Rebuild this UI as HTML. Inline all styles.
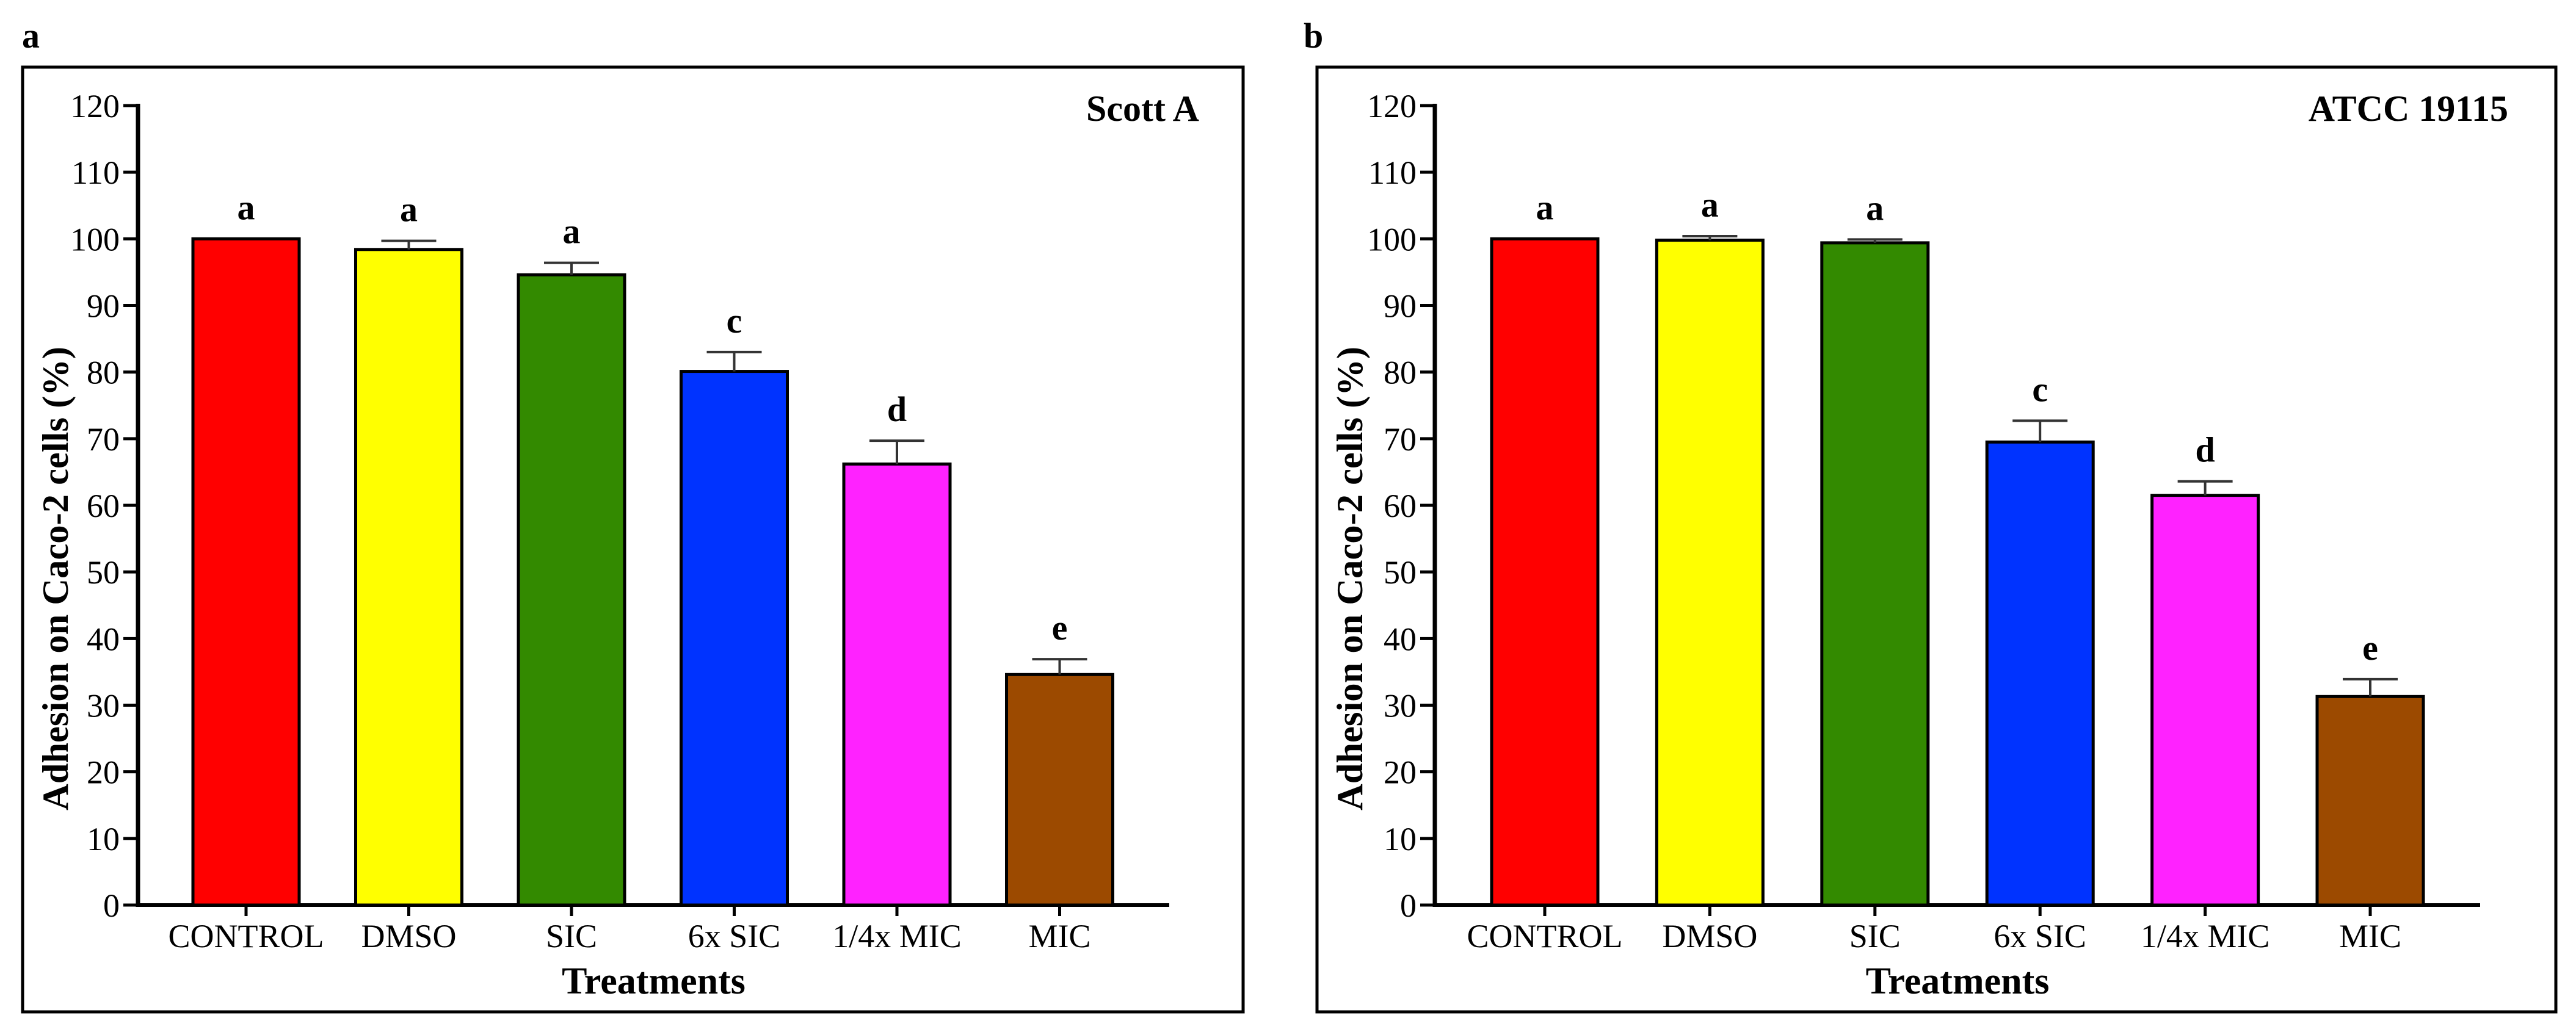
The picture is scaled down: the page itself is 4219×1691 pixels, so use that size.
<!DOCTYPE html>
<html><head><meta charset="utf-8">
<style>
html,body{margin:0;padding:0;background:#fff;}
svg{display:block;font-family:"Liberation Serif",serif;}
</style></head>
<body>
<svg id="fig" width="4219" height="1691" viewBox="0 0 4219 1691"></svg>
<script>
const categories = ["CONTROL","DMSO","SIC","6x SIC","1/4x MIC","MIC"];
const scottValues = [100, 98.4, 94.6, 80.1, 66.2, 34.6];
const scottErrors = [0, 1.3, 1.8, 2.9, 3.5, 2.3];
const atccValues = [100, 99.8, 99.4, 69.5, 61.5, 31.3];
const atccErrors = [0, 0.6, 0.5, 3.2, 2.1, 2.6];
const letters = ["a","a","a","c","d","e"];
const yTicks = [0,10,20,30,40,50,60,70,80,90,100,110,120];
const colors = ["#ff0000","#ffff00","#338a00","#0033ff","#ff22ff","#9c4a00"];

const NS = "http://www.w3.org/2000/svg";
const svg = document.getElementById("fig");
function mk(tag, attrs, parent, text){
  const e = document.createElementNS(NS, tag);
  for (const k in attrs) e.setAttribute(k, attrs[k]);
  if (text !== undefined) e.textContent = text;
  (parent||svg).appendChild(e);
  return e;
}

function panel(cfg){
  const g = mk("g", {});
  
  
  const y0 = 1483, y120 = 173;
  const yScale = v => y0 - (v/120)*(y0 - y120);
  const xScale = i => cfg.firstX + i*cfg.step;

  const lab = mk("text", {x:cfg.labelX, y:78, "font-size":58, "font-weight":"bold"}, g, cfg.panelLabel);
  
  

  const frame = mk("rect", {x:cfg.fx, y:110, width:cfg.fw, height:1548, fill:"none", stroke:"#000", "stroke-width":5}, g);
  
  

  const yAxis = mk("line", {x1:cfg.ax, y1:y120-3, x2:cfg.ax, y2:y0+3, stroke:"#000", "stroke-width":7}, g);
  
  
  const xAxis = mk("line", {x1:cfg.ax-3, y1:y0, x2:cfg.xEnd, y2:y0, stroke:"#000", "stroke-width":6}, g);
  
  

  yTicks.forEach(t => {
    const y = yScale(t);
    const tk = mk("line", {x1:cfg.ax-24, y1:y, x2:cfg.ax, y2:y, stroke:"#000", "stroke-width":5}, g);
    
    
    const tl = mk("text", {x:cfg.ax-30, y:y+19, "font-size":54, "text-anchor":"end"}, g, String(t));
    
    
  });

  const yt = mk("text", {x:0, y:0, "font-size":60, "font-weight":"bold", "text-anchor":"middle",
    transform:`translate(${cfg.fx+74},${(y0+y120)/2+120}) rotate(-90)`, textLength:760, lengthAdjust:"spacingAndGlyphs"}, g, "Adhesion on Caco-2 cells (%)");
  
  

  const bw = 174;
  cfg.values.forEach((v,i) => {
    const cx = xScale(i);
    const top = yScale(v);
    const b = mk("rect", {x:cx-bw/2, y:top, width:bw, height:y0-top, fill:colors[i], stroke:"#000", "stroke-width":5}, g);
    
    
    const e = cfg.errors[i];
    let lt = top;
    if (e > 0){
      const ey = yScale(v+e);
      const el = mk("path", {d:`M${cx},${top} V${ey} M${cx-45},${ey} H${cx+45}`, stroke:"#333", "stroke-width":4, fill:"none"}, g);
      
      
      lt = ey;
    }
    const sl = mk("text", {x:cx, y:lt-32, "font-size":58, "font-weight":"bold", "text-anchor":"middle"}, g, letters[i]);
    
    
    const xt = mk("line", {x1:cx, y1:y0, x2:cx, y2:y0+18, stroke:"#000", "stroke-width":5}, g);
    
    
    const cl = mk("text", {x:cx, y:1552, "font-size":54, "text-anchor":"middle"}, g, categories[i]);
    
    
  });

  const xtitle = mk("text", {x:(cfg.ax+cfg.xEnd)/2, y:1628, "font-size":62, "font-weight":"bold", "text-anchor":"middle"}, g, "Treatments");
  
  

  const st = mk("text", {x:cfg.strainX, y:198, "font-size":60, "font-weight":"bold", "text-anchor":"end"}, g, cfg.strain);
  
  
}

panel({name:"panel-a-scott-a", panelLabel:"a", labelX:36, fx:37, fw:1999, ax:226, xEnd:1915,
  firstX:403, step:266.5, values:scottValues, errors:scottErrors, strain:"Scott A", strainX:1964});
panel({name:"panel-b-atcc-19115", panelLabel:"b", labelX:2135, fx:2157, fw:2029, ax:2350, xEnd:4062,
  firstX:2530, step:270.4, values:atccValues, errors:atccErrors, strain:"ATCC 19115", strainX:4108});
</script>
</body></html>
